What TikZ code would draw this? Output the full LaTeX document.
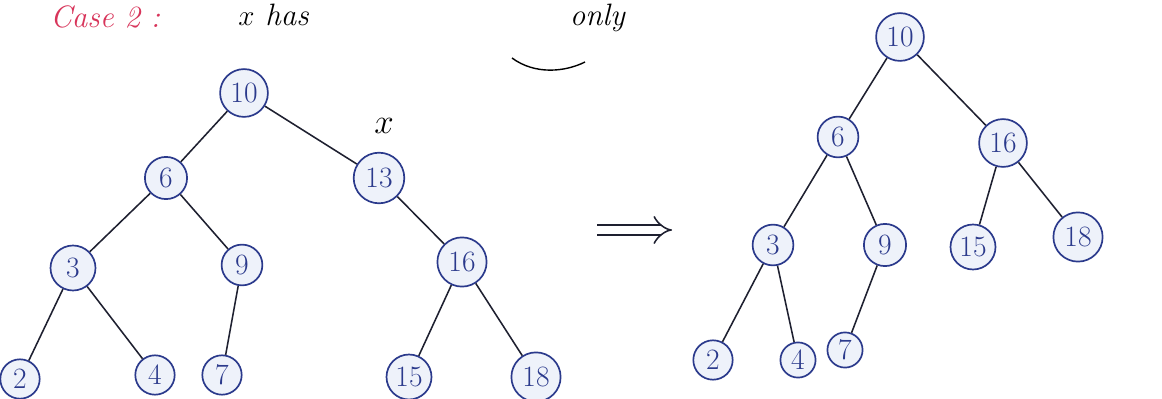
\documentclass[tikz,border=0pt]{standalone}
\usetikzlibrary{arrows.meta}
\definecolor{ink}{HTML}{2B3A8C}
\definecolor{fillb}{HTML}{EEF2FA}
\definecolor{redink}{HTML}{D8345A}
\definecolor{lineink}{HTML}{1E2030}
\tikzset{
  bn/.style={circle, draw=ink, fill=fillb, line width=1.2pt, inner sep=0pt, minimum size=#1, text=ink, font=\fontsize{21}{23}\selectfont},
  bn/.default=38pt,
  edge/.style={draw=lineink, line width=1.1pt},
  hw/.style={font=\fontsize{22}{24}\selectfont\itshape, inner sep=0pt}
}
\begin{document}
\begin{tikzpicture}[x=0.025cm, y=-0.025cm]
\useasboundingbox (0,0) rectangle (1162,399);
\clip (0,0) rectangle (1162,399);
\fill[white] (0,0) rectangle (1162,399);
% heading
\node[hw, text=redink, anchor=base west] (case) at (50,28) {Case 2 :};
\node[hw, text=black, anchor=base west] (xhas) at (238,26) {$x$ has};
\node[hw, text=black, anchor=base east] (only) at (625,26) {only};
\draw[line width=1pt] (512,58) .. controls (535,75) and (565,72) .. (585,62);
% left tree
\node[bn=34pt] (a10) at (244,93) {10};
\node[bn=30pt] (a6) at (166,178) {6};
\node[bn=36pt] (a13) at (379,178) {13};
\node[bn=32pt] (a3) at (73,268) {3};
\node[bn=29pt] (a9) at (242,265) {9};
\node[bn=35pt] (a16) at (462,262) {16};
\node[bn=28pt] (a2) at (20,379) {2};
\node[bn=28pt] (a4) at (155,375) {4};
\node[bn=28pt] (a7) at (222,375) {7};
\node[bn=32pt] (a15) at (409,377) {15};
\node[bn=35pt] (a18) at (536,377) {18};
\node[font=\fontsize{24}{26}\selectfont\itshape, inner sep=0pt] (xl) at (384,126) {$x$};
\draw[edge] (a10) -- (a6);
\draw[edge] (a10) -- (a13);
\draw[edge] (a6) -- (a3);
\draw[edge] (a6) -- (a9);
\draw[edge] (a13) -- (a16);
\draw[edge] (a3) -- (a2);
\draw[edge] (a3) -- (a4);
\draw[edge] (a9) -- (a7);
\draw[edge] (a16) -- (a15);
\draw[edge] (a16) -- (a18);
% arrow
\coordinate (arrS) at (597,230);
\coordinate (arrE) at (672,230);
\draw[lineink, line width=1.1pt, double distance=6pt, -{Implies[]}] (arrS) -- (arrE);
% right tree
\node[bn=34pt] (b10) at (900,37) {10};
\node[bn=29pt] (b6) at (838,137) {6};
\node[bn=34pt] (b16) at (1003,143) {16};
\node[bn=29pt] (b3) at (773,245) {3};
\node[bn=30pt] (b9) at (885,245) {9};
\node[bn=32pt] (b15) at (973,247) {15};
\node[bn=35pt] (b18) at (1078,237) {18};
\node[bn=28pt] (b2) at (713,360) {2};
\node[bn=25pt] (b4) at (798,360) {4};
\node[bn=25pt] (b7) at (845,350) {7};
\draw[edge] (b10) -- (b6);
\draw[edge] (b10) -- (b16);
\draw[edge] (b6) -- (b3);
\draw[edge] (b6) -- (b9);
\draw[edge] (b16) -- (b15);
\draw[edge] (b16) -- (b18);
\draw[edge] (b3) -- (b2);
\draw[edge] (b3) -- (b4);
\draw[edge] (b9) -- (b7);
\end{tikzpicture}
\end{document}
